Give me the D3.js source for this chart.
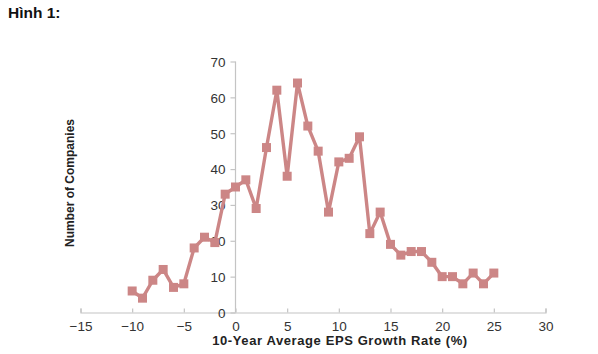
<!DOCTYPE html>
<html>
<head>
<meta charset="utf-8">
<script src="https://cdn.jsdelivr.net/npm/d3@7"></script>
<style>
  body { margin: 0; background: #fff; }
  svg { display: block; }
</style>
</head>
<body>
<div id="chart"></div>
<script>
// data
var growthRate = [-10, -9, -8, -7, -6, -5, -4, -3, -2, -1, 0, 1, 2, 3, 4, 5, 6, 7, 8, 9, 10,
                  11, 12, 13, 14, 15, 16, 17, 18, 19, 20, 21, 22, 23, 24, 25];
var companies = [6, 4, 9, 12, 7, 8, 18, 21, 19.5, 33, 35, 37, 29, 46, 62, 38, 64, 52, 45, 28, 42,
                 43, 49, 22, 28, 19, 16, 17, 17, 14, 10, 10, 8, 11, 8, 11];
var xTicks = [-15, -10, -5, 0, 5, 10, 15, 20, 25, 30];
var yTicks = [0, 10, 20, 30, 40, 50, 60, 70];

var width = 598, height = 354;
var lineColor = '#cc8686';

var svg = d3.select('#chart').append('svg')
  .attr('width', width)
  .attr('height', height);

var xScale = d3.scaleLinear().domain([-15, 30]).range([80.5, 545.5]);
var yScale = d3.scaleLinear().domain([0, 70]).range([312.5, 61.5]);

// title
svg.append('text')
  .attr('x', 8)
  .attr('y', 18)
  .style('font-family', 'Liberation Sans, Arial, sans-serif')
  .style('font-weight', 'bold')
  .style('font-size', '15.5px')
  .attr('fill', '#111')
  .text('Hình 1:');

// x axis
var xAxis = svg.append('g')
  .attr('transform', `translate(0, ${yScale(0)})`)
  .call(d3.axisBottom(xScale).tickValues(xTicks).tickSize(-4).tickPadding(9)
    .tickFormat(d => d < 0 ? '\u2212' + Math.abs(d) : d));

// y axis
var yAxis = svg.append('g')
  .attr('transform', `translate(${xScale(0)}, 0)`)
  .call(d3.axisLeft(yScale).tickValues(yTicks).tickSize(5).tickPadding(5));

[xAxis, yAxis].forEach(function (ax) {
  ax.select('.domain').attr('stroke', '#c4c4c4').attr('stroke-width', 1.2);
  ax.selectAll('.tick line').attr('stroke', '#c4c4c4').attr('stroke-width', 1.2);
  ax.selectAll('.tick text')
    .attr('fill', '#333')
    .style('font-family', 'Liberation Sans, Arial, sans-serif')
    .style('font-size', '13.5px');
});
yAxis.select('.domain').attr('d', `M0,${yScale(0)}V${yScale(70)}`);
yAxis.selectAll('.tick text').attr('dy', '0.36em');
xAxis.selectAll('.tick text').attr('dy', '0.71em');

// axis titles
svg.append('text')
  .attr('x', 340)
  .attr('y', 345)
  .attr('text-anchor', 'middle')
  .style('font-family', 'Liberation Sans, Arial, sans-serif')
  .style('font-weight', 'bold')
  .style('font-size', '13px')
  .style('letter-spacing', '0.6px')
  .attr('fill', '#222')
  .text('10-Year Average EPS Growth Rate (%)');

svg.append('text')
  .attr('transform', 'translate(74, 183) rotate(-90)')
  .attr('text-anchor', 'middle')
  .style('font-family', 'Liberation Sans Narrow, Arial Narrow, sans-serif')
  .style('font-weight', 'bold')
  .style('font-size', '12px')
  .attr('fill', '#222')
  .text('Number of Companies');

// line + square markers
var points = growthRate.map((g, i) => [g, companies[i]]);

var lineGenerator = d3.line()
  .x(function (d) { return xScale(d[0]); })
  .y(function (d) { return yScale(d[1]); });

svg.append('path')
  .attr('d', lineGenerator(points))
  .attr('fill', 'none')
  .attr('stroke', lineColor)
  .attr('stroke-width', 3.4)
  .attr('stroke-linejoin', 'round');

var sq = 9;
svg.append('g').selectAll('rect')
  .data(points)
  .join('rect')
  .attr('x', d => xScale(d[0]) - sq / 2)
  .attr('y', d => yScale(d[1]) - sq / 2)
  .attr('width', sq)
  .attr('height', sq)
  .attr('fill', lineColor);
</script>
</body>
</html>
